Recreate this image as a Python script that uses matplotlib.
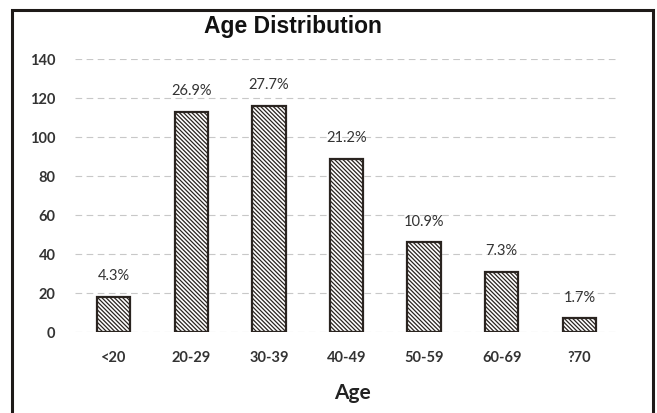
import matplotlib.pyplot as plt
from matplotlib.patches import Rectangle

plt.rcParams['hatch.linewidth'] = 0.9
plt.rcParams['hatch.color'] = '#2a2420'

ages = ['<20', '20-29', '30-39', '40-49', '50-59', '60-69', '?70']
counts = [18, 113, 116, 89, 46, 31, 7]
pct_labels = ['4.3%', '26.9%', '27.7%', '21.2%', '10.9%', '7.3%', '1.7%']
yticks = [0, 20, 40, 60, 80, 100, 120, 140]

fig = plt.figure(figsize=(6.57, 4.13), dpi=100)
ax = fig.add_axes([0.114, 0.196, 0.827, 0.661])

# outer frame of the printed chart
fig.patches.append(Rectangle((0.018, -0.05), 0.976, 1.025, transform=fig.transFigure,
                             fill=False, edgecolor='#1e1a18', linewidth=2.2))

x = range(len(ages))
bars = ax.bar(x, counts, width=0.43, color='white', edgecolor='#2a2420',
              linewidth=1.6, hatch='\\' * 8, zorder=3)

for b, lab in zip(bars, pct_labels):
    ax.text(b.get_x() + b.get_width() / 2, b.get_height() + 7, lab,
            ha='center', va='bottom', fontsize=10.5, family='Lato', color='#333333')

ax.set_ylim(0, 140)
ax.set_xlim(-0.5, len(ages) - 0.5)
ax.set_yticks(yticks)
ax.set_xticks(list(x))
ax.set_xticklabels(ages)
ax.yaxis.grid(True, linestyle=(0, (6, 4)), color='#c8c8c8', linewidth=0.8, zorder=0)
ax.tick_params(length=0, labelsize=10.5, labelcolor='#333333', pad=14)
ax.tick_params(axis='y', pad=14)
for lbl in ax.get_xticklabels() + ax.get_yticklabels():
    lbl.set_family('Lato')
    lbl.set_fontweight('bold')
for s in ax.spines.values():
    s.set_visible(False)

fig.text(0.537, 0.048, 'Age', ha='center', va='center', fontsize=15,
         fontweight='bold', family='Lato', color='#222222')
fig.text(0.446, 0.935, 'Age Distribution', ha='center', va='center', fontsize=16.5,
         fontweight='bold', family='Liberation Sans', color='#111111')

fig.savefig('out.png', dpi=100)
